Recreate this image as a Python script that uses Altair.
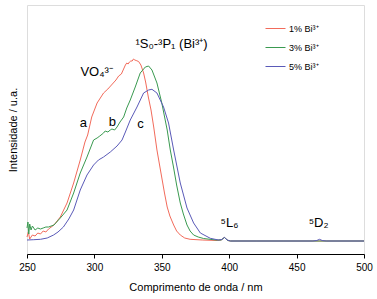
import altair as alt
import pandas as pd

# ---- data (wavelength in nm, intensity in arbitrary units) ----
red_nm = [250, 251, 252, 254, 256, 258, 260, 262, 264, 266, 270, 274.7, 279.7, 284.6, 289.5,
          293, 295, 298, 302, 306.8, 310, 314, 316, 318, 319, 320, 321, 322, 323, 324, 325, 326,
          327, 328, 329, 330, 331, 332.8, 334.5, 336.5, 338, 340, 342, 344, 346.4, 349, 352,
          354, 356, 358.8, 361, 363.7, 367, 371, 380, 391, 394, 396.5, 399, 401, 500]
red_int = [17, 22, 15, 19, 18, 21, 20, 23, 22, 25, 29, 37, 51, 71, 94,
           112, 119, 137, 151, 161, 165, 171, 174, 178, 179, 180, 183, 186, 189, 191, 190, 192,
           193, 193, 195, 194, 193.5, 192.5, 189, 181, 172, 157, 144, 127, 104, 84, 61,
           47, 38, 29, 23, 19, 16, 14.7, 14, 13.5, 14, 16.5, 13.5, 13, 13]

green_nm = [250, 250.7, 251.3, 252, 253, 254, 256, 258, 260, 262, 264, 266, 270, 274.7, 279.7,
            284.6, 289.5, 294.5, 299.4, 302, 304, 306.8, 308, 310, 311.8, 313, 315, 316.8, 319,
            321.7, 324, 326.6, 330.3, 334, 337.8, 340.2, 342.7, 346.4, 350, 354, 356.3, 358.8,
            361, 363.7, 366, 368.7, 371, 373.6, 377, 381, 390, 394, 396.5, 399, 401, 500]
green_int = [26, 32, 20, 30, 24, 28, 24, 26, 25, 26, 27, 27, 29, 36, 44,
             61, 81, 97, 114, 116, 118, 121, 123, 122, 124, 125, 124, 127, 132,
             137, 146, 154, 167, 181, 187, 188, 184, 171, 151, 124, 104, 86,
             69, 51, 40, 29, 23, 19, 17, 15.5, 14, 14, 16.5, 13.5, 13, 13]

blue_nm = [250, 255, 260, 265, 269.7, 273, 277, 281, 284.6, 289.5, 294.5, 299.4, 303, 306.8,
           311.8, 316.8, 320.5, 323, 326.6, 331.6, 336.5, 340.2, 342.7, 346.4, 351.3, 355,
           358.8, 363.7, 368.7, 373.6, 378.6, 386, 392, 394.5, 396.5, 398.5, 401, 420, 440,
           462, 465, 467, 469, 472, 500]
blue_int = [14, 14.3, 14.7, 16, 19, 22, 27, 35, 44, 64, 79, 89, 94, 97,
            102, 108, 114, 122, 134, 147, 161, 164, 164.7, 161, 147, 131,
            104, 71, 46, 31, 21, 15.7, 14, 14.5, 16.7, 14, 13, 13, 13,
            13, 13.5, 14.7, 13.5, 13, 13]

series_names = ["1% Bi³⁺", "3% Bi³⁺", "5% Bi³⁺"]
series_colors = ["#f26b5b", "#3a9a50", "#5a5ab8"]

# annotation labels anchored in data coordinates
big_labels = ["VO₄³⁻", "¹S₀-³P₁ (Bi³⁺)", "⁵L₆", "⁵D₂"]
big_nm = [289.6, 330.4, 393.6, 459.0]
big_int = [178, 206, 27, 27]

letter_labels = ["a", "b", "c"]
letter_nm = [291.8, 313.4, 334.2]
letter_int = [127, 128, 126]

rows = []
for name, xs, ys in zip(series_names, [red_nm, green_nm, blue_nm], [red_int, green_int, blue_int]):
    for x, y in zip(xs, ys):
        rows.append({"series": name, "nm": x, "intensity": y})
df = pd.DataFrame(rows)

big_df = pd.DataFrame({"label": big_labels, "nm": big_nm, "intensity": big_int})
letter_df = pd.DataFrame({"label": letter_labels, "nm": letter_nm, "intensity": letter_int})

FONT = "Liberation Sans"
x_scale = alt.Scale(domain=[250, 500], nice=False, zero=False)
y_scale = alt.Scale(domain=[0, 249], nice=False, zero=False)

x_axis = alt.Axis(
    values=list(range(250, 501, 25)),
    labelExpr="datum.value % 50 == 0 ? datum.label : ''",
    title="Comprimento de onda / nm",
    tickSize=4, tickColor="black", domainColor="black", grid=False,
    labelFont=FONT, labelFontSize=10, labelColor="black", labelPadding=4,
    titleFont=FONT, titleFontSize=11, titleFontWeight="normal", titleColor="black",
    titlePadding=9, labelFlush=False,
)
y_axis = alt.Axis(
    labels=False, ticks=False, grid=False, domain=False,
    title="Intensidade / u.a.",
    titleFont=FONT, titleFontSize=11, titleFontWeight="normal", titleColor="black",
    titlePadding=9,
)

lines = alt.Chart(df).mark_line(strokeWidth=1).encode(
    x=alt.X("nm:Q", scale=x_scale, axis=x_axis),
    y=alt.Y("intensity:Q", scale=y_scale, axis=y_axis),
    color=alt.Color(
        "series:N",
        scale=alt.Scale(domain=series_names, range=series_colors),
        legend=alt.Legend(
            orient="none", legendX=238, legendY=13, title=None,
            symbolType="stroke", symbolSize=400, symbolStrokeWidth=1,
            labelFont=FONT, labelFontSize=9, labelColor="black", labelOffset=3,
            rowPadding=3,
        ),
    ),
    order=alt.Order("nm:Q"),
)

big_text = alt.Chart(big_df).mark_text(
    align="left", baseline="alphabetic", font=FONT, fontSize=13, color="black"
).encode(
    x=alt.X("nm:Q", scale=x_scale),
    y=alt.Y("intensity:Q", scale=y_scale),
    text="label:N",
)

letter_text = alt.Chart(letter_df).mark_text(
    align="center", baseline="alphabetic", font=FONT, fontSize=13, color="black"
).encode(
    x=alt.X("nm:Q", scale=x_scale),
    y=alt.Y("intensity:Q", scale=y_scale),
    text="label:N",
)

chart = alt.layer(lines, big_text, letter_text).properties(
    width=337, height=249,
    padding={"left": 27, "top": 5, "right": 13, "bottom": 45},
    autosize="none",
).configure_view(stroke="black", strokeWidth=1).configure(background="white")

chart.save("out.html", embed_options={"renderer": "svg", "actions": False})
